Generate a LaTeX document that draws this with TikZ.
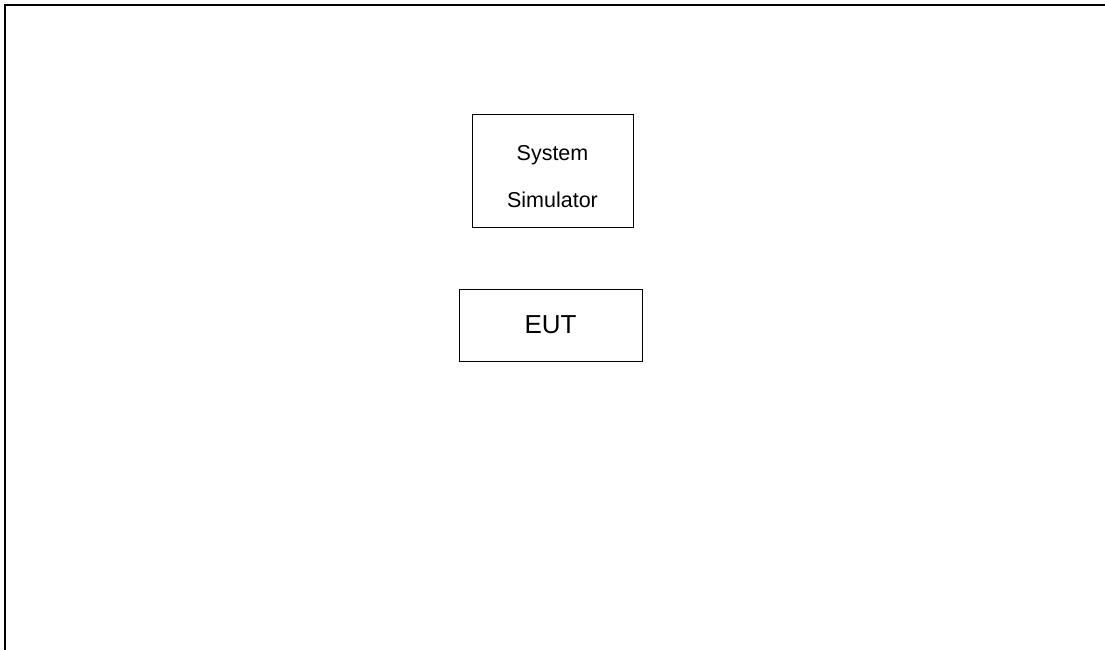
\documentclass[tikz,border=0pt]{standalone}
\usepackage{fontspec}
\setmainfont{Liberation Sans}
\usepackage{tikz}
\usetikzlibrary{positioning}

\begin{document}
\begin{tikzpicture}[x=1pt,y=-1pt,
  blk/.style={draw,line width=1pt,inner sep=0pt}]
\useasboundingbox (0,0) rectangle (1105,650);
\coordinate (fbl) at (5,650);
\coordinate (ftl) at (5,5);
\coordinate (ftr) at (1105,5);
\draw[line width=2pt] (fbl) -- (ftl) -- (ftr);

\node[blk,minimum width=161pt,minimum height=112pt,align=center,
      font=\fontsize{21.5}{47}\selectfont] (sim) at (552.5,171)
      {\rule{0pt}{26pt}System\\Simulator};
\node[blk,minimum width=183pt,minimum height=72pt,
      font=\fontsize{26}{30}\selectfont] (eut) at (550.5,325) {EUT};
\end{tikzpicture}
\end{document}
